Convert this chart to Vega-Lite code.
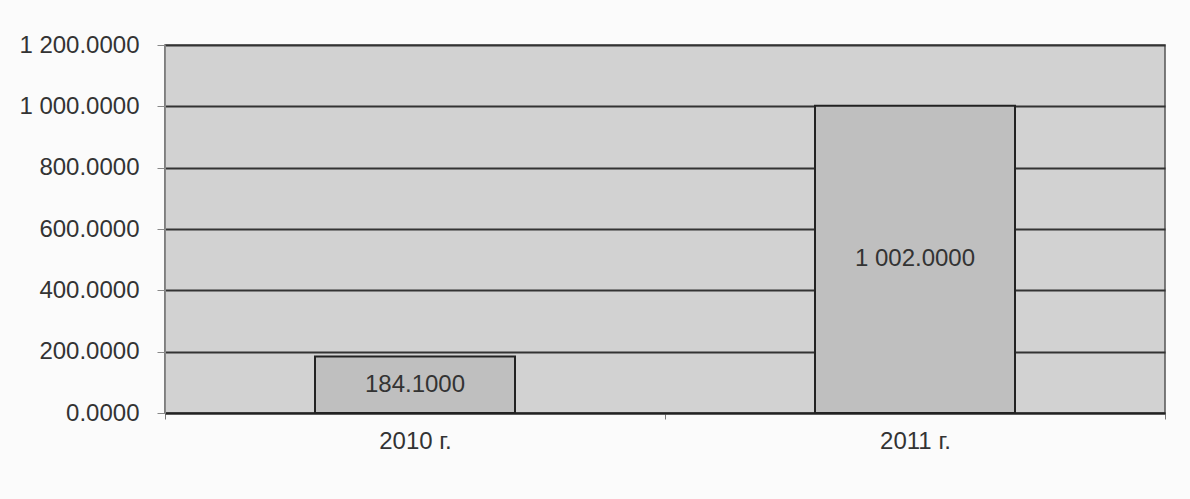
{
  "$schema": "https://vega.github.io/schema/vega-lite/v6.json",
  "autosize": "none",
  "width": 1000,
  "height": 368,
  "padding": {"left": 165, "top": 45, "right": 25, "bottom": 86},
  "background": "#fbfbfb",
  "config": {
    "locale": {"number": {"decimal": ".", "thousands": " ", "grouping": [3], "currency": ["", ""]}},
    "font": "Liberation Sans",
    "view": {"fill": "#d2d2d2", "stroke": "#555555", "strokeWidth": 1.5}
  },
  "data": {
    "values": [
      {"year": "2010 г.", "value": 184.1},
      {"year": "2011 г.", "value": 1002.0}
    ]
  },
  "encoding": {
    "x": {
      "field": "year",
      "type": "nominal",
      "sort": null,
      "scale": {"paddingInner": 0, "paddingOuter": 0},
      "axis": {
        "title": null,
        "labelAngle": 0,
        "labelFontSize": 24,
        "labelColor": "#333333",
        "labelPadding": 10,
        "tickBand": "extent",
        "tickColor": "#777777",
        "tickSize": 6,
        "domainColor": "#222222",
        "domainWidth": 2
      }
    }
  },
  "layer": [
    {
      "mark": {"type": "bar", "fill": "#bfbfbf", "stroke": "#222222", "strokeWidth": 2, "width": {"band": 0.4}},
      "encoding": {
        "y": {
          "field": "value",
          "type": "quantitative",
          "scale": {"domain": [0, 1200], "nice": false},
          "axis": {
            "title": null,
            "values": [0, 200, 400, 600, 800, 1000, 1200],
            "format": ",.4f",
            "labelFontSize": 24,
            "labelColor": "#333333",
            "labelPadding": 18,
            "tickColor": "#888888",
            "tickSize": 8,
            "domainColor": "#888888",
            "grid": true,
            "gridColor": "#333333",
            "gridWidth": 2
          }
        }
      }
    },
    {
      "transform": [{"calculate": "datum.value / 2", "as": "mid"}],
      "mark": {"type": "text", "fontSize": 24, "color": "#333333", "baseline": "middle", "align": "center"},
      "encoding": {
        "y": {"field": "mid", "type": "quantitative"},
        "text": {"field": "value", "type": "quantitative", "format": ",.4f"}
      }
    }
  ]
}
